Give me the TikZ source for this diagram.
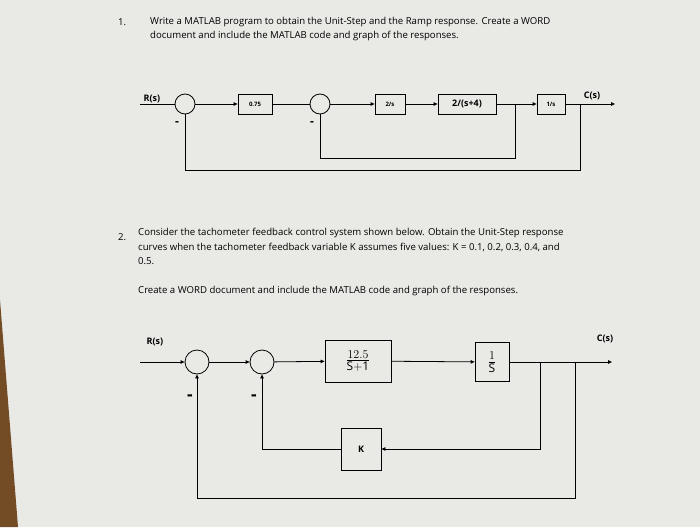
\documentclass[tikz,border=0pt]{standalone}
\usepackage{fontspec}
\setmainfont{Open Sans}
\usetikzlibrary{arrows.meta}
\begin{document}
\begin{tikzpicture}[x=1pt,y=-1pt,
  blk/.style={draw,thick,minimum width=#1,minimum height=20pt,inner sep=1pt,font=\fontsize{6}{7}\selectfont\bfseries},
  sum/.style={draw,thick,circle,minimum size=20pt,inner sep=0pt},
  ln/.style={thick},
  ar/.style={thick,-{Triangle[length=4pt,width=3.5pt]}},
  txt/.style={anchor=west,font=\fontsize{9.6}{11}\selectfont,inner sep=0pt}]
\definecolor{paper}{HTML}{E9E9E6}
\useasboundingbox (0,0) rectangle (700,527);
\fill[paper] (0,0) rectangle (700,527);
\fill[brown!60!black] (0,300) -- (18,527) -- (0,527) -- cycle;
% text 1
\node[txt] (n1) at (118,22) {1.};
\node[txt] (t1) at (150,22) {Write a MATLAB program to obtain the Unit-Step and the Ramp response. Create a WORD};
\node[txt] (t2) at (150,36) {document and include the MATLAB code and graph of the responses.};
% diagram 1
\node[font=\small\bfseries] (r1) at (152,99) {R(s)};
\coordinate (i1) at (140,104);
\node[sum] (s1) at (185,104) {};
\node[blk=34pt] (b1) at (255,104) {0.75};
\node[sum] (s2) at (320,104) {};
\node[blk=30pt] (b2) at (390,104) {2/s};
\node[blk=58pt,font=\small\bfseries] (b3) at (467,104) {2/(s+4)};
\node[blk=28pt] (b4) at (551,104) {1/s};
\node[font=\small\bfseries] (c1) at (592,96) {C(s)};
\coordinate (o1) at (615,104);
\draw[ln] (i1) -- (s1);
\draw[ar] (s1) -- (b1);
\draw[ln] (b1) -- (s2);
\draw[ar] (s2) -- (b2);
\draw[ar] (b2) -- (b3);
\draw[ar] (b3) -- (b4);
\draw[ar] (b4) -- (o1);
\coordinate (f1) at (515,104);
\coordinate (f2) at (580,104);
\draw[ln] (f1) -- (515,158) -| (s2);
\draw[ln] (f2) -- (580,170) -| (s1);
\node[font=\large\bfseries] (m1) at (177,124) {-};
\node[font=\large\bfseries] (m2) at (312,124) {-};
% text 2
\node[txt] (n2) at (118,237) {2.};
\node[txt] (t3) at (138,233) {Consider the tachometer feedback control system shown below. Obtain the Unit-Step response};
\node[txt] (t4) at (138,247) {curves when the tachometer feedback variable K assumes five values: K = 0.1, 0.2, 0.3, 0.4, and};
\node[txt] (t5) at (138,261) {0.5.};
\node[txt] (t6) at (138,291) {Create a WORD document and include the MATLAB code and graph of the responses.};
% diagram 2
\node[font=\small\bfseries] (r2) at (155,342) {R(s)};
\coordinate (i2) at (140,362);
\node[sum,minimum size=24pt] (s3) at (197,362) {};
\node[sum,minimum size=24pt] (s4) at (262,362) {};
\node[draw,thick,minimum width=66pt,minimum height=42pt,inner sep=1pt,font=\LARGE] (b5) at (358,361) {$\frac{12.5}{\mathrm{S+1}}$};
\node[draw,thick,minimum width=34pt,minimum height=39pt,inner sep=1pt,font=\LARGE] (b6) at (492,362) {$\frac{1}{\mathrm{S}}$};
\node[draw,thick,minimum width=40pt,minimum height=42pt,font=\small\bfseries] (k) at (361,449) {K};
\node[font=\small\bfseries] (c2) at (605,339) {C(s)};
\coordinate (o2) at (612,362);
\draw[ar] (i2) -- (s3);
\draw[ar] (s3) -- (s4);
\draw[ar] (s4) -- (b5);
\draw[ar] (b5) -- (b6);
\draw[ar] (b6) -- (o2);
\coordinate (f3) at (540,362);
\coordinate (f4) at (575,362);
\draw[ar] (f3) -- (540,449) -- (k);
\draw[ar] (k) -| (s4);
\draw[ar] (f4) -- (575,498) -| (s3);
\node[font=\LARGE\bfseries] (m3) at (190,398) {-};
\node[font=\LARGE\bfseries] (m4) at (254,398) {-};
\end{tikzpicture}
\end{document}
